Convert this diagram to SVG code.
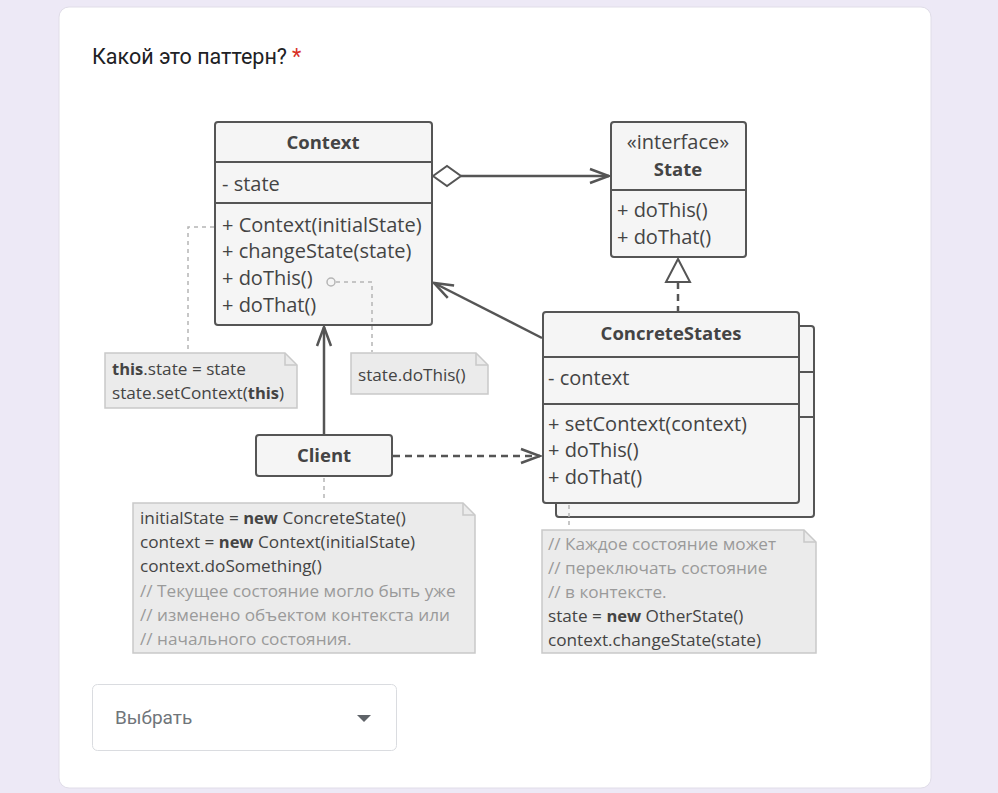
<svg xmlns="http://www.w3.org/2000/svg" width="998" height="793" viewBox="0 0 998 793">
<style>
.t{font-family:"Open Sans","Noto Sans",sans-serif;font-size:20px;fill:#444}
.b{font-weight:bold;font-size:18.5px}
.m{text-anchor:middle}
.n{font-size:17.2px}
.n .b{font-size:16.5px}
.c{fill:#9a9a9a}
.box{fill:#f5f5f5;stroke:#555;stroke-width:2}
.sep{stroke:#555;stroke-width:2}
.note{fill:#ebebeb;stroke:#c9c9c9;stroke-width:1.5}
.fold{fill:none;stroke:#c9c9c9;stroke-width:1.5}
.ln{fill:none;stroke:#555;stroke-width:2.5}
.dash{stroke-dasharray:7,5}
.ann{fill:none;stroke:#b5b5b5;stroke-width:1.5;stroke-dasharray:4,4}
.ui{font-family:Roboto,"Noto Sans",sans-serif}
</style>
<defs>
<marker id="open" viewBox="0 0 22 20" refX="20" refY="10" markerWidth="22" markerHeight="20" markerUnits="userSpaceOnUse" orient="auto">
<path d="M1,3 L20,10 L1,17" fill="none" stroke="#555" stroke-width="2.5"/>
</marker>
</defs>
<rect width="998" height="793" fill="#ede9f6"/>
<rect x="59" y="7" width="872" height="781" rx="10" fill="#fff" stroke="#e0dde8" stroke-width="1"/>
<text class="ui" x="92" y="64" font-size="21.5" fill="#202124">Какой это паттерн?<tspan fill="#d93025" dx="5">*</tspan></text>

<g id="context">
<rect class="box" x="215" y="122" width="217" height="203" rx="3"/>
<line class="sep" x1="215" y1="162" x2="432" y2="162"/>
<line class="sep" x1="215" y1="203" x2="432" y2="203"/>
<text class="t b m" x="323" y="149">Context</text>
<text class="t" x="222" y="191">- state</text>
<text class="t" x="222" y="232">+ Context(initialState)</text>
<text class="t" x="222" y="258">+ changeState(state)</text>
<text class="t" x="222" y="285">+ doThis()</text>
<text class="t" x="222" y="312">+ doThat()</text>
</g>

<g id="state">
<rect class="box" x="611" y="122" width="135" height="135" rx="3"/>
<line class="sep" x1="611" y1="190" x2="746" y2="190"/>
<text class="t m" x="678" y="149">«interface»</text>
<text class="t b m" x="678" y="176">State</text>
<text class="t" x="617" y="217">+ doThis()</text>
<text class="t" x="617" y="244">+ doThat()</text>
</g>

<g id="concretestates">
<rect class="box" x="556" y="326" width="258" height="191" rx="3"/>
<line class="sep" x1="556" y1="372" x2="814" y2="372"/>
<line class="sep" x1="556" y1="417" x2="814" y2="417"/>
<rect class="box" x="543" y="312" width="256" height="191" rx="3"/>
<line class="sep" x1="543" y1="357" x2="799" y2="357"/>
<line class="sep" x1="543" y1="404" x2="799" y2="404"/>
<text class="t b m" x="671" y="340">ConcreteStates</text>
<text class="t" x="548" y="385">- context</text>
<text class="t" x="548" y="431">+ setContext(context)</text>
<text class="t" x="548" y="457">+ doThis()</text>
<text class="t" x="548" y="484">+ doThat()</text>
</g>

<g id="client">
<rect class="box" x="256" y="435" width="136" height="41" rx="3"/>
<text class="t b m" x="324" y="462">Client</text>
</g>

<g id="note-context">
<path class="note" d="M105,353 H285 L297,365 V408 H105 Z"/>
<path class="fold" d="M285,353 V365 H297"/>
<text class="t n" x="112" y="375"><tspan class="b">this</tspan>.state = state</text>
<text class="t n" x="112" y="399">state.setContext(<tspan class="b">this</tspan>)</text>
</g>

<g id="note-dothis">
<path class="note" d="M351,353 H476 L488,365 V394 H351 Z"/>
<path class="fold" d="M476,353 V365 H488"/>
<text class="t n" x="358" y="381">state.doThis()</text>
</g>

<g id="note-client">
<path class="note" d="M133,503 H463 L475,515 V653 H133 Z"/>
<path class="fold" d="M463,503 V515 H475"/>
<text class="t n" x="140" y="524">initialState = <tspan class="b">new</tspan> ConcreteState()</text>
<text class="t n" x="140" y="548">context = <tspan class="b">new</tspan> Context(initialState)</text>
<text class="t n" x="140" y="572">context.doSomething()</text>
<text class="t n c" x="140" y="597">// Текущее состояние могло быть уже</text>
<text class="t n c" x="140" y="621">// изменено объектом контекста или</text>
<text class="t n c" x="140" y="645">// начального состояния.</text>
</g>

<g id="note-concrete">
<path class="note" d="M542,530 H804 L816,542 V653 H542 Z"/>
<path class="fold" d="M804,530 V542 H816"/>
<text class="t n c" x="548" y="550">// Каждое состояние может</text>
<text class="t n c" x="548" y="574">// переключать состояние</text>
<text class="t n c" x="548" y="598">// в контексте.</text>
<text class="t n" x="548" y="622">state = <tspan class="b">new</tspan> OtherState()</text>
<text class="t n" x="548" y="646">context.changeState(state)</text>
</g>

<g id="connectors">
<polygon points="433,176 447,166 461,176 447,186" fill="#fff" stroke="#555" stroke-width="2"/>
<line class="ln" x1="461" y1="176" x2="609" y2="176" marker-end="url(#open)"/>
<line class="ln dash" x1="678" y1="282" x2="678" y2="311"/>
<polygon points="678,259 666,282 690,282" fill="#fff" stroke="#555" stroke-width="2"/>
<line class="ln" x1="542" y1="338" x2="434" y2="283" marker-end="url(#open)"/>
<line class="ln" x1="324" y1="434" x2="324" y2="327" marker-end="url(#open)"/>
<line class="ln dash" x1="393" y1="456" x2="540" y2="456" marker-end="url(#open)"/>
<path class="ann" d="M214,227 H188 V352"/>
<circle cx="331" cy="282" r="4" fill="none" stroke="#b5b5b5" stroke-width="1.5"/>
<path class="ann" d="M336,282 H372 V352"/>
<path class="ann" d="M324,478 V502"/>
<path class="ann" d="M569,505 V529"/>
</g>

<g id="dropdown">
<rect x="92.5" y="684.5" width="304" height="66" rx="5" fill="#fff" stroke="#dadce0"/>
<text class="ui" x="115" y="724" font-size="19" fill="#70757a">Выбрать</text>
<polygon points="357,715 371,715 364,722" fill="#5f6368"/>
</g>
</svg>
